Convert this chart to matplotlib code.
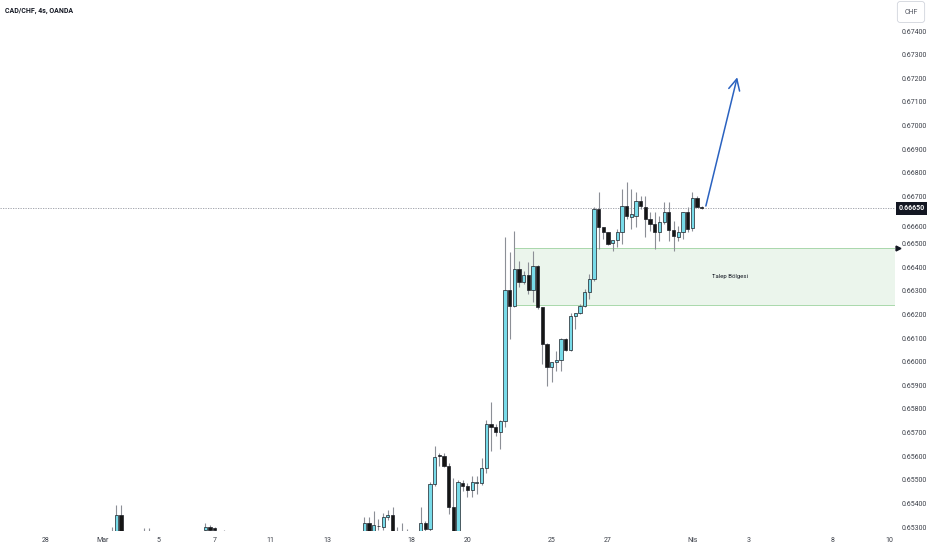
import numpy as np
import matplotlib.pyplot as plt
from matplotlib.patches import Rectangle
from matplotlib.transforms import blended_transform_factory, ScaledTranslation

plt.rcParams['font.family'] = ['Roboto', 'DejaVu Sans']

# 4h bars, x = bar number counted from the first bar of Feb 28
# (only the bars that reach into the visible price range)
bar_idx = [14, 15, 16, 21, 22, 34, 35, 36, 38,
           68, 69, 70, 71, 72, 73, 74, 75, 76, 77,
           80, 81, 82, 83, 84, 85, 86, 87, 88, 89,
           90, 91, 92, 93, 94, 95, 96, 97, 98, 99,
           100, 101, 102, 103, 104, 105, 106, 107, 108, 109,
           110, 111, 112, 113, 114, 115, 116, 117, 118, 119,
           120, 121, 122, 123, 124, 125, 126, 127, 128, 129,
           130, 131, 132, 133, 134, 135, 136, 137, 138, 139, 140]

open_ = [0.65270, 0.65270, 0.65351, 0.65270, 0.65265, 0.65287, 0.65301, 0.65295, 0.65270,
         0.65240, 0.65318, 0.65250, 0.65304, 0.65301, 0.65341, 0.65351, 0.65270, 0.65260, 0.65270,
         0.65260, 0.65316, 0.65293, 0.65482, 0.65606, 0.65599, 0.65559, 0.65384, 0.65280, 0.65486,
         0.65472, 0.65458, 0.65486, 0.65486, 0.65549, 0.65735, 0.65724, 0.65702, 0.65747, 0.66303,
         0.66234, 0.66392, 0.66336, 0.66367, 0.66303, 0.66406, 0.66230, 0.66075, 0.65976, 0.65997,
         0.66009, 0.66098, 0.66050, 0.66195, 0.66204, 0.66234, 0.66296, 0.66350, 0.66646, 0.66570,
         0.66547, 0.66501, 0.66515, 0.66547, 0.66660, 0.66614, 0.66618, 0.66679, 0.66657, 0.66604,
         0.66585, 0.66547, 0.66592, 0.66632, 0.66558, 0.66526, 0.66550, 0.66632, 0.66564, 0.66695, 0.66656]

high = [0.65299, 0.65393, 0.65393, 0.65295, 0.65295, 0.65316, 0.65308, 0.65298, 0.65287,
        0.65344, 0.65344, 0.65369, 0.65334, 0.65360, 0.65372, 0.65386, 0.65301, 0.65318, 0.65292,
        0.65383, 0.65325, 0.65492, 0.65644, 0.65615, 0.65613, 0.65571, 0.65508, 0.65500, 0.65500,
        0.65486, 0.65514, 0.65514, 0.65592, 0.65754, 0.65831, 0.65735, 0.65754, 0.66527, 0.66463,
        0.66554, 0.66427, 0.66385, 0.66420, 0.66470, 0.66410, 0.66232, 0.66077, 0.66000, 0.66047,
        0.66100, 0.66100, 0.66204, 0.66208, 0.66244, 0.66308, 0.66371, 0.66653, 0.66717, 0.66572,
        0.66549, 0.66517, 0.66561, 0.66731, 0.66759, 0.66731, 0.66718, 0.66702, 0.66702, 0.66632,
        0.66632, 0.66618, 0.66674, 0.66674, 0.66596, 0.66575, 0.66633, 0.66654, 0.66717, 0.66701, 0.66658]

low = [0.65250, 0.65250, 0.65250, 0.65250, 0.65250, 0.65270, 0.65270, 0.65270, 0.65250,
       0.65220, 0.65220, 0.65230, 0.65287, 0.65287, 0.65330, 0.65240, 0.65240, 0.65240, 0.65230,
       0.65240, 0.65260, 0.65270, 0.65472, 0.65559, 0.65554, 0.65356, 0.65250, 0.65260, 0.65453,
       0.65429, 0.65429, 0.65440, 0.65479, 0.65528, 0.65623, 0.65686, 0.65630, 0.65724, 0.66094,
       0.66230, 0.66315, 0.66329, 0.66286, 0.66251, 0.66223, 0.65990, 0.65899, 0.65913, 0.65962,
       0.65962, 0.66045, 0.66045, 0.66138, 0.66202, 0.66231, 0.66265, 0.66341, 0.66477, 0.66519,
       0.66494, 0.66470, 0.66484, 0.66498, 0.66604, 0.66561, 0.66570, 0.66646, 0.66526, 0.66554,
       0.66477, 0.66512, 0.66582, 0.66512, 0.66470, 0.66512, 0.66519, 0.66547, 0.66553, 0.66654, 0.66648]

close = [0.65260, 0.65351, 0.65270, 0.65265, 0.65270, 0.65301, 0.65287, 0.65289, 0.65265,
         0.65318, 0.65240, 0.65307, 0.65306, 0.65341, 0.65352, 0.65260, 0.65260, 0.65270, 0.65260,
         0.65316, 0.65293, 0.65482, 0.65596, 0.65599, 0.65559, 0.65384, 0.65270, 0.65489, 0.65473,
         0.65458, 0.65490, 0.65490, 0.65549, 0.65736, 0.65724, 0.65702, 0.65747, 0.66303, 0.66234,
         0.66392, 0.66336, 0.66367, 0.66303, 0.66406, 0.66230, 0.66075, 0.65976, 0.65997, 0.66009,
         0.66098, 0.66050, 0.66195, 0.66204, 0.66234, 0.66296, 0.66350, 0.66646, 0.66570, 0.66547,
         0.66500, 0.66515, 0.66547, 0.66660, 0.66618, 0.66625, 0.66679, 0.66660, 0.66604, 0.66585,
         0.66547, 0.66592, 0.66632, 0.66558, 0.66530, 0.66550, 0.66632, 0.66561, 0.66695, 0.66656, 0.66650]

# date labels on the time axis
tick_pos = [0, 12, 24, 36, 48, 60, 78, 90, 108, 120, 138, 150, 168, 180]
tick_txt = ['28', 'Mar', '5', '7', '11', '13', '18', '20', '25', '27', 'Nis', '3', '8', '10']

price_ticks = [0.653, 0.654, 0.655, 0.656, 0.657, 0.658, 0.659, 0.660, 0.661, 0.662, 0.663,
               0.664, 0.665, 0.666, 0.667, 0.668, 0.669, 0.670, 0.671, 0.672, 0.673, 0.674]

last_price = 0.66650
zone_start = 100
zone_low = 0.66240
zone_high = 0.66481
zone_text = 'Talep Bölgesi'
arrow_from = (140.9, 0.66659)
arrow_to = (147.6, 0.67204)

x_min, x_max = -9.82, 181.29
y_min, y_max = 0.652831, 0.675313

fig = plt.figure(figsize=(9.32, 5.5), dpi=100)
ax = fig.add_axes([0, 19 / 550, 895 / 932, 531 / 550])
ax.set_xlim(x_min, x_max)
ax.set_ylim(y_min, y_max)

# demand zone
ax.add_patch(Rectangle((zone_start, zone_low), x_max - zone_start + 2, zone_high - zone_low,
                       facecolor='#ebf5ec', edgecolor='none', zorder=0))
ax.hlines([zone_low, zone_high], zone_start, x_max + 2, color='#a9d8ab', lw=0.7, zorder=1)
ax.text((zone_start + x_max) / 2 + 5.5, (zone_low + zone_high) / 2, zone_text,
        fontsize=4.3, ha='center', va='center', color='#131722', zorder=4)

# last price line
ax.axhline(last_price, color='#9598a1', lw=0.6, ls=(0, (1.5, 1.5)), zorder=1)

# candles
o = np.array(open_)
h = np.array(high)
l = np.array(low)
c = np.array(close)
up = c >= o
colors = np.where(up, '#78dbe9', '#151515')
ax.vlines(bar_idx, l, h, color='#8c8f96', lw=0.8, zorder=2)
ax.bar(bar_idx, np.maximum(np.abs(c - o), 0.00002), bottom=np.minimum(o, c), width=0.7,
       color=colors, edgecolor='#1c1f26', linewidth=0.5, zorder=3)

# projection arrow
ax.annotate('', xy=arrow_to, xytext=arrow_from,
            arrowprops=dict(arrowstyle='->,head_length=0.5,head_width=0.25', color='#2a62c0',
                            lw=1.1, shrinkA=0, shrinkB=0, mutation_scale=16))

# axes styling
for s in ax.spines.values():
    s.set_visible(False)
ax.yaxis.tick_right()
ax.set_yticks(price_ticks)
ax.set_yticklabels([f'{p:.5f}' for p in price_ticks])
ax.tick_params(axis='y', length=0, pad=5, labelsize=5, labelcolor='#3b3f48')
ax.set_xticks(tick_pos, tick_txt)
ax.tick_params(axis='x', length=0, pad=4.5, labelsize=5, labelcolor='#3b3f48')

# the 0.66600 label is pushed down by the last price label
for lab, p in zip(ax.get_yticklabels(), price_ticks):
    if abs(p - 0.666) < 1e-6:
        lab.set_transform(lab.get_transform() + ScaledTranslation(0, -4.5 / 72, fig.dpi_scale_trans))

trans = blended_transform_factory(ax.transAxes, ax.transData)
ax.text(1.004, last_price, f'{last_price:.5f}', transform=trans, ha='left', va='center',
        fontsize=5, color='white', fontweight='bold', clip_on=False, zorder=5,
        bbox=dict(boxstyle='square,pad=0.35', fc='#131722', ec='none'))
ax.plot([1.003], [zone_high], marker='>', ms=3.5, color='#131722', transform=trans, clip_on=False)

fig.text(5 / 932, 1 - 11 / 550, 'CAD/CHF, 4s, OANDA', fontsize=5, fontweight='semibold',
         va='center', ha='left', color='#131722')
fig.text(911 / 932, 1 - 12 / 550, 'CHF', ha='center', va='center', fontsize=5, color='#50535e',
         bbox=dict(boxstyle='round,pad=1.0,rounding_size=0.4', fc='white', ec='#d1d4dc', lw=0.6))

fig.savefig('out.png', dpi=100, facecolor='white')
